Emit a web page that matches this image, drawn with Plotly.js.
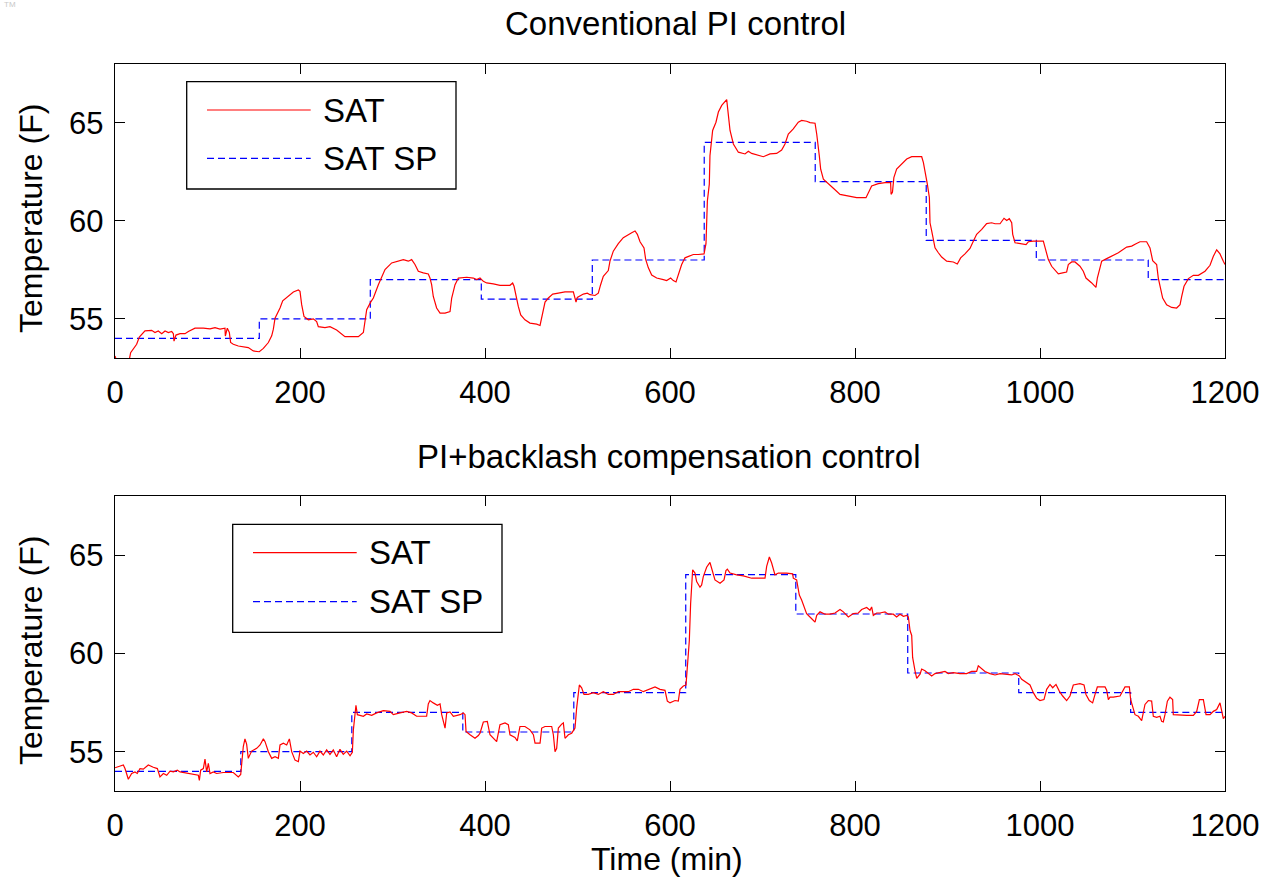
<!DOCTYPE html>
<html>
<head>
<meta charset="utf-8">
<script src="https://cdn.plot.ly/plotly-3.0.1.min.js"></script>
<style>
html,body{margin:0;padding:0;background:#fff;}
#chart{width:1269px;height:879px;}
</style>
</head>
<body>
<div id="chart"></div>
<script>
// ---------- DATA ----------
const titles = ["Conventional PI control", "PI+backlash compensation control"];
const seriesNames = ["SAT", "SAT SP"];
const xTickVals = [0, 200, 400, 600, 800, 1000, 1200];
const yTickVals = [55, 60, 65];

// Top panel: conventional PI
const topSatT = [0,3,10,15,16.9,19.8,23.4,26.3,32.4,39.6,43.2,46.8,50.5,54.1,57.7,61.3,63.1,63.8,65.9,70.3,75.7,79.3,86.5,95.5,102.7,108.1,113.5,118.9,119.3,121.4,123.6,125.0,127.9,133.3,138.7,144.1,149.5,156.0,160.4,165.8,169.4,171.2,173.0,178.4,181.3,187.4,192.8,198.2,200.0,201.8,204.3,209.0,214.4,218.0,219.8,227.0,232.4,239.6,248.6,257.7,263.1,268.5,270.3,272.1,276.4,279.3,284.7,288.3,291.9,299.1,306.3,311.7,317.1,320.7,324.3,327.9,333.3,338.7,340.5,342.3,344.1,347.7,351.4,356.8,362.2,364.0,367.6,371.2,380.2,387.4,391.0,394.6,398.2,401.8,409.0,416.2,427.0,429.9,431.4,434.2,436.0,438.6,443.2,448.6,455.9,459.5,462.3,464.9,468.5,473.2,479.3,486.5,495.5,498.4,499.8,506.3,510.6,513.5,518.9,522.5,525.0,527.9,533.3,535.1,538.7,544.1,549.5,555.0,558.6,562.2,564.7,567.6,571.9,573.7,576.6,580.2,585.6,592.8,596.4,600.7,603.6,606.5,609.0,612.6,616.2,621.6,625.2,630.6,636.8,638.9,640.4,642.5,643.2,646.1,649.7,652.3,655.9,661.3,663.1,664.9,668.5,673.9,681.1,684.7,688.3,693.7,700.9,708.1,715.3,720.7,724.3,727.9,733.3,738.7,742.3,747.7,751.4,756.8,758.6,761.4,762.9,765.8,771.2,776.6,783.8,792.8,801.8,811.9,814.4,818.0,825.2,832.4,838.5,839.0,840.5,842.0,845.0,850.5,855.9,861.3,866.7,872.1,873.9,875.7,878.2,880.4,881.1,882.9,884.7,886.5,890.1,893.7,899.1,906.3,910.6,914.2,918.9,924.3,927.9,931.5,937.0,942.3,947.7,951.4,956.8,961.1,964.0,966.8,969.4,970.5,973.0,978.4,984.9,987.4,992.8,1003.6,1005.4,1009.0,1012.6,1016.2,1019.8,1024.5,1028.8,1030.6,1034.2,1037.8,1043.2,1046.8,1049.7,1055.9,1060.5,1062.0,1064.1,1066.7,1072.1,1079.3,1084.7,1093.7,1099.1,1103.8,1108.1,1115.3,1118.9,1121.8,1126.1,1127.9,1130.5,1132.6,1136.9,1142.3,1147.7,1151.4,1153.2,1155.7,1160.4,1165.8,1171.2,1178.4,1183.8,1187.4,1191.0,1194.6,1198.2,1200];
const topSatV = [53.1,52.7,52.5,52.8,53.27,53.44,53.70,54.07,54.38,54.41,54.30,54.38,54.24,54.38,54.30,54.35,54.24,53.86,54.17,54.24,54.24,54.35,54.52,54.52,54.49,54.55,54.47,54.52,54.12,54.52,54.30,53.79,53.70,53.61,53.56,53.53,53.36,53.32,53.49,53.79,54.13,54.47,55.03,55.55,55.92,56.14,56.37,56.47,56.40,55.72,55.12,54.95,55.00,54.86,54.60,54.55,54.60,54.43,54.09,54.09,54.09,54.30,54.86,55.46,55.85,56.06,56.74,57.17,57.51,57.85,57.94,58.02,57.94,58.02,57.77,57.42,57.34,57.29,57.08,56.74,56.14,55.55,55.29,55.29,55.37,56.06,56.74,57.08,57.12,57.08,57.00,57.08,56.91,56.83,56.78,56.71,56.71,56.83,56.66,55.97,55.63,55.20,54.95,54.78,54.73,54.66,55.37,55.85,56.06,56.26,56.31,56.37,56.37,55.85,56.09,56.26,56.31,56.23,56.19,56.31,56.74,57.17,57.46,57.94,58.45,58.83,59.14,59.31,59.39,59.48,59.31,58.93,58.62,58.03,57.60,57.23,57.08,57.00,56.95,57.08,56.95,56.88,57.29,57.77,58.11,58.19,58.28,58.28,58.31,58.83,61.01,61.87,63.32,64.61,65.03,65.55,65.89,66.18,65.46,64.61,63.92,63.50,63.41,63.55,63.44,63.37,63.27,63.41,63.44,63.61,63.92,64.43,64.69,65.03,65.12,65.08,65.01,64.98,64.43,63.32,62.63,62.12,61.87,61.66,61.35,61.27,61.18,61.18,61.44,61.78,61.90,61.95,61.95,61.35,61.45,62.20,62.64,62.89,63.15,63.27,63.27,63.27,62.98,62.55,61.87,61.19,59.90,59.48,58.97,58.62,58.37,58.15,57.94,57.90,57.80,58.11,58.31,58.59,58.96,59.31,59.56,59.86,59.90,59.85,59.85,60.13,60.02,60.11,59.90,59.31,58.88,58.83,58.79,58.93,58.96,58.96,58.59,58.02,57.68,57.46,57.29,57.34,57.39,57.77,57.90,57.90,57.68,57.43,57.08,56.83,56.60,57.08,57.51,57.94,58.07,58.25,58.37,58.66,58.71,58.83,58.93,58.93,58.62,57.97,57.77,57.08,56.57,56.06,55.72,55.58,55.55,55.72,56.14,56.66,57.05,57.22,57.22,57.43,57.73,58.19,58.52,58.31,57.94,57.77];
const topSpT = [0,156,276,396,516,637,757,877,996,1117,1200];
const topSpV = [54,55,57,56,58,64,62,59,58,57,57];

// Bottom panel: PI + backlash compensation
const botSatT = [0,3.6,9.0,10.8,14.4,18.0,21.6,24.1,27.0,30.6,36.0,41.4,45.8,48.6,52.3,55.9,59.5,63.1,67.4,70.3,73.9,79.3,84.7,90.1,91.2,92.6,95.5,97.3,99.1,100.9,102.7,106.3,109.9,117.1,127.9,133.3,135.9,138.7,140.5,142.3,144.1,147.7,153.2,156.8,160.4,162.2,165.8,169.4,173.0,176.6,178.4,182.0,185.6,188.5,191.0,194.6,198.2,200.0,203.6,207.2,210.8,214.4,218.0,221.6,225.2,228.8,232.4,236.0,239.6,243.2,246.8,250.5,254.1,256.6,257.7,259.5,260.5,262.0,268.5,272.1,277.5,282.9,290.1,297.3,300.9,308.1,315.3,320.7,326.1,333.3,336.9,338.7,340.5,344.1,348.5,351.4,353.2,356.8,358.6,362.2,365.8,373.0,376.6,378.4,379.5,383.8,389.2,392.8,394.6,398.2,402.5,405.4,409.0,412.6,416.2,421.6,425.2,427.0,432.4,434.9,437.1,437.8,443.2,448.6,452.3,454.1,459.5,461.3,464.9,472.1,473.9,475.7,477.5,479.3,482.9,484.7,486.5,490.1,493.7,497.3,499.1,502.0,504.5,507.0,511.7,517.1,522.5,527.9,533.3,538.7,544.1,549.5,555.0,560.4,565.8,571.2,576.6,583.8,589.2,594.6,597.1,600.0,605.4,609.0,610.8,614.4,617.3,618.7,620.9,622.3,624.5,627.0,628.8,632.4,634.2,636.0,639.6,643.2,646.8,648.6,654.1,658.4,660.5,662.0,664.9,672.1,679.3,688.3,697.3,702.7,704.5,707.4,709.9,711.7,713.5,717.1,726.1,732.6,733.3,736.9,739.8,742.3,744.9,747.7,753.2,756.8,758.6,762.2,767.6,773.0,778.4,783.8,787.4,792.8,798.2,803.6,807.2,812.6,816.2,818.0,819.8,823.4,827.0,832.4,836.0,841.4,845.0,848.6,852.3,855.9,857.7,859.5,861.3,862.3,864.9,866.7,870.3,872.1,875.7,879.3,882.9,886.5,891.9,897.3,900.9,906.3,913.5,920.7,926.1,931.5,933.3,937.0,940.5,945.9,951.4,956.8,964.0,969.4,973.0,977.7,980.2,985.6,989.2,992.8,996.4,1000.0,1004.3,1007.2,1010.8,1013.7,1017.3,1020.9,1024.5,1028.8,1032.4,1036.0,1043.2,1047.6,1049.7,1053.3,1056.9,1059.5,1062.0,1070.3,1072.1,1073.9,1075.7,1079.3,1086.5,1091.9,1096.6,1098.0,1100.9,1102.7,1106.3,1109.9,1113.5,1117.1,1120.7,1122.5,1126.1,1129.7,1131.5,1133.3,1135.1,1137.7,1140.5,1143.4,1144.1,1151.4,1158.6,1165.8,1169.4,1172.3,1176.6,1179.5,1183.8,1187.4,1191.0,1194.6,1196.4,1198.2,1200];
const botSatV = [54.18,54.23,54.32,54.14,53.60,53.89,53.97,53.89,54.14,54.11,54.32,54.21,54.14,53.72,53.89,53.80,54.01,53.97,54.06,53.97,53.94,53.89,53.84,53.80,53.54,54.06,54.14,54.62,53.97,54.40,53.89,53.97,53.89,53.94,53.94,53.72,53.84,55.26,55.65,55.38,54.66,55.03,55.17,55.34,55.65,55.51,55.00,54.66,54.74,54.66,55.34,55.43,55.34,55.65,55.00,54.57,54.49,55.03,54.91,55.03,54.83,54.97,54.74,55.03,54.83,55.09,54.86,55.09,54.74,55.12,54.86,55.03,54.79,54.97,56.11,56.88,57.36,56.88,56.80,56.92,56.85,56.97,57.09,57.05,56.88,56.97,57.05,56.97,56.80,56.80,56.80,57.43,57.60,57.48,57.36,57.43,56.88,56.20,56.97,57.02,56.80,56.88,56.97,56.88,56.03,55.86,55.68,55.82,55.94,56.51,56.54,55.86,55.68,55.51,56.37,56.46,56.37,55.86,55.72,55.55,56.11,56.28,56.28,56.11,55.86,55.43,55.43,56.20,56.28,56.28,55.86,55.00,55.17,56.20,56.40,56.46,55.68,55.86,55.94,56.20,57.23,58.39,58.25,57.91,57.91,58.00,57.91,58.05,57.91,57.91,58.05,58.05,58.05,58.17,58.17,58.05,58.17,58.29,58.17,58.12,57.57,57.48,57.60,57.57,58.17,58.34,58.39,59.37,60.65,62.53,64.25,64.08,63.65,63.36,63.48,63.90,64.38,64.62,64.08,63.73,63.56,63.73,64.21,64.28,64.08,63.99,63.94,63.82,63.82,63.82,64.42,64.90,64.59,64.25,63.99,64.08,64.08,64.04,63.82,63.73,62.96,62.71,62.36,62.02,61.76,61.59,61.93,62.11,61.99,61.99,62.05,62.23,62.11,61.85,62.02,62.05,62.23,62.33,62.19,62.36,61.93,62.05,62.05,62.11,61.99,61.99,61.85,61.99,61.88,61.93,61.85,61.16,60.91,59.79,59.11,58.73,58.94,59.20,59.11,58.97,58.85,58.97,59.02,59.08,58.97,59.02,58.97,58.97,59.08,59.08,59.37,59.20,59.08,58.97,58.90,58.97,58.94,58.90,58.97,58.85,58.68,58.51,58.39,58.00,57.71,57.60,57.65,58.17,58.42,58.25,58.42,58.08,57.83,57.60,57.83,58.39,58.46,58.39,57.91,57.60,57.48,57.91,58.29,58.29,58.12,57.65,57.77,57.77,57.83,58.29,58.29,57.65,57.23,56.88,56.80,56.58,57.40,57.60,57.57,56.80,56.75,56.80,56.54,56.51,56.88,57.57,57.77,57.65,56.88,56.85,56.85,56.85,57.05,57.65,57.65,56.88,56.88,57.05,57.14,57.48,57.05,56.68,56.80];
const botSpT = [0,136,256,376,496,617,736,857,977,1098,1200];
const botSpV = [54,55,57,56,58,64,62,59,58,57,57];

// ---------- STYLE ----------
const FONT = '"Liberation Sans", Arial, Helvetica, sans-serif';
const RED = '#ff0000', BLUE = '#0000ff', INK = '#000000';
const DASH = '7px,4px';

function satTrace(x, y, xa, ya) {
  return {x: x, y: y, xaxis: xa, yaxis: ya, type: 'scatter', mode: 'lines',
    name: seriesNames[0], showlegend: false,
    line: {color: RED, width: 1.2}, hoverinfo: 'skip'};
}
function spTrace(x, y, xa, ya) {
  return {x: x, y: y, xaxis: xa, yaxis: ya, type: 'scatter', mode: 'lines',
    name: seriesNames[1], showlegend: false,
    line: {color: BLUE, width: 1.2, dash: DASH, shape: 'hv'}, hoverinfo: 'skip'};
}

const data = [
  spTrace(topSpT, topSpV, 'x', 'y'),
  satTrace(topSatT, topSatV, 'x', 'y'),
  spTrace(botSpT, botSpV, 'x2', 'y2'),
  satTrace(botSatT, botSatV, 'x2', 'y2')
];

// page geometry (pixels -> paper)
const W = 1269, H = 879, ML = 115, MR = 44, MT = 64, MB = 88;
const PW = W - ML - MR, PH = H - MT - MB;
const px = v => (v - ML) / PW;
const py = v => (H - MB - v) / PH;

function xAxis(anchor) {
  return {anchor: anchor, range: [0, 1200], tickvals: xTickVals,
    ticks: 'inside', ticklen: 10, tickwidth: 1, tickcolor: INK,
    showline: true, linecolor: INK, linewidth: 1.3, mirror: 'ticks',
    showgrid: false, zeroline: false, fixedrange: true,
    tickfont: {family: FONT, size: 31, color: INK}, ticklabelstandoff: 6};
}
function yAxis(anchor, dom) {
  return {anchor: anchor, domain: dom, range: [53, 68], tickvals: yTickVals,
    ticks: 'inside', ticklen: 10, tickwidth: 1, tickcolor: INK,
    showline: true, linecolor: INK, linewidth: 1.3, mirror: 'ticks',
    showgrid: false, zeroline: false, fixedrange: true,
    tickfont: {family: FONT, size: 31, color: INK}, ticklabelstandoff: 4};
}

function legendShapes(box, l1y, l2y, lx0, lx1) {
  return [
    {type: 'rect', xref: 'paper', yref: 'paper', x0: px(box[0]), x1: px(box[1]),
      y0: py(box[2]), y1: py(box[3]), line: {color: INK, width: 1.3}, fillcolor: '#ffffff', layer: 'above'},
    {type: 'line', xref: 'paper', yref: 'paper', x0: px(lx0), x1: px(lx1),
      y0: py(l1y), y1: py(l1y), line: {color: RED, width: 1.2}, layer: 'above'},
    {type: 'line', xref: 'paper', yref: 'paper', x0: px(lx0), x1: px(lx1),
      y0: py(l2y), y1: py(l2y), line: {color: BLUE, width: 1.2, dash: DASH}, layer: 'above'}
  ];
}
function legendTexts(tx, l1y, l2y) {
  return [
    {xref: 'paper', yref: 'paper', x: px(tx), y: py(l1y), text: seriesNames[0],
      xanchor: 'left', yanchor: 'middle', showarrow: false, font: {family: FONT, size: 33, color: INK}},
    {xref: 'paper', yref: 'paper', x: px(tx), y: py(l2y), text: seriesNames[1],
      xanchor: 'left', yanchor: 'middle', showarrow: false, font: {family: FONT, size: 33, color: INK}}
  ];
}

const annText = (x, y, text, size, angle) => ({xref: 'paper', yref: 'paper', x: px(x), y: py(y),
  text: text, showarrow: false, xanchor: 'center', yanchor: 'middle', textangle: angle || 0,
  font: {family: FONT, size: size, color: INK}});

const layout = {
  width: W, height: H,
  margin: {l: ML, r: MR, t: MT, b: MB, pad: 0},
  paper_bgcolor: '#ffffff', plot_bgcolor: '#ffffff',
  showlegend: false,
  font: {family: FONT, color: INK},
  xaxis: xAxis('y'),
  yaxis: yAxis('x', [py(358), 1]),
  xaxis2: xAxis('y2'),
  yaxis2: yAxis('x2', [0, py(496)]),
  shapes: [].concat(
    legendShapes([186.7, 456, 81.7, 189], 110, 158.3, 207, 310.7),
    legendShapes([232.7, 502, 524.3, 632.3], 552.7, 601.7, 253, 356.7)
  ),
  annotations: [].concat(
    [annText(676, 23, titles[0], 33),
     annText(669, 457, titles[1], 33),
     annText(667, 859, 'Time (min)', 32),
     annText(31, 219, 'Temperature (F)', 32, -90),
     annText(31, 651, 'Temperature (F)', 32, -90),
     {xref: 'paper', yref: 'paper', x: px(2), y: py(5), text: 'TM', showarrow: false,
      xanchor: 'left', yanchor: 'middle', font: {family: FONT, size: 8, color: '#c8c8c8'}}],
    legendTexts(321, 110, 158.3),
    legendTexts(366.7, 552.7, 601.7)
  )
};

Plotly.newPlot('chart', data, layout, {displayModeBar: false, staticPlot: true});
</script>
</body>
</html>
